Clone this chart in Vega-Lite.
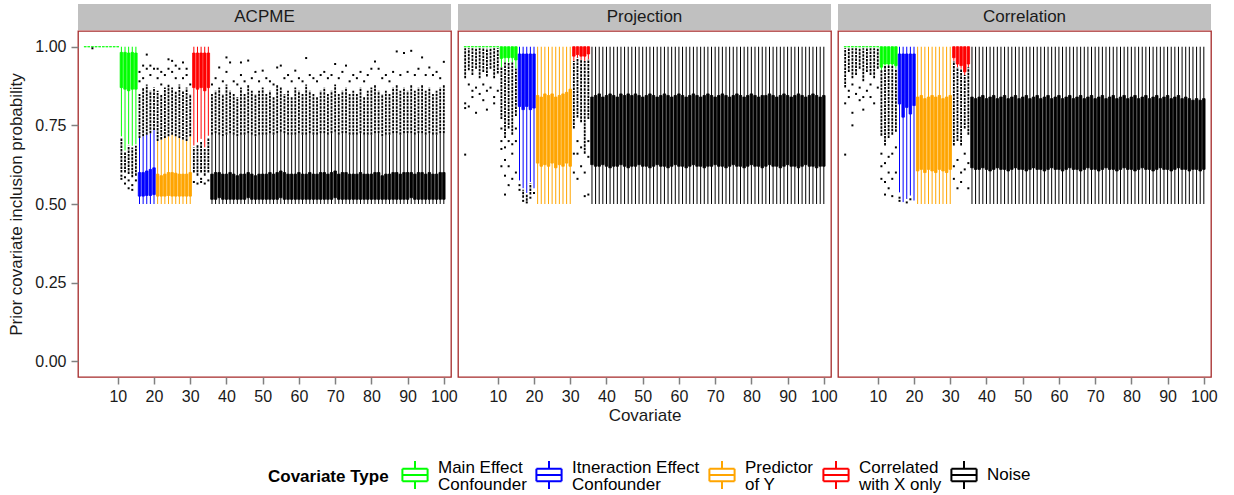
{
"$schema": "https://vega.github.io/schema/vega-lite/v6.json",
"padding": {"left": 7, "top": 4, "right": 5, "bottom": 5},
"background": "white",
"config": {
  "font": "Liberation Sans",
  "axis": {"grid": false, "domain": false, "tickSize": 7, "tickColor": "#808080", "tickWidth": 1.5, "labelFontSize": 16, "labelColor": "#1a1a1a", "labelPadding": 4, "labelFlush": false, "labelOverlap": false, "titleFontSize": 17, "titleFontWeight": "normal", "titleColor": "#1a1a1a", "labelFont": "Liberation Sans", "titleFont": "Liberation Sans"},
  "axisX": {"titlePadding": 3},
  "axisY": {"titlePadding": 9, "labelPadding": 5},
  "legend": {"titleFontSize": 17, "titleFontWeight": "bold", "titleColor": "black", "labelFontSize": 17, "labelColor": "black", "titleFont": "Liberation Sans", "labelFont": "Liberation Sans"}
},
"resolve": {"scale": {"color": "shared", "stroke": "shared"}},
"datasets": {
"types": [{"t":1,"type":"Main Effect|Confounder"},{"t":2,"type":"Itneraction Effect|Confounder"},{"t":3,"type":"Predictor|of Y"},{"t":4,"type":"Correlated|with X only"},{"t":5,"type":"Noise"}],
"A": [
{"c":1,"t":1,"lo":1,"q1":1,"q3":1,"hi":1,"o":[]},
{"c":2,"t":1,"lo":1,"q1":1,"q3":1,"hi":1,"o":[]},
{"c":3,"t":1,"lo":1,"q1":1,"q3":1,"hi":1,"o":[0.995]},
{"c":4,"t":1,"lo":1,"q1":1,"q3":1,"hi":1,"o":[]},
{"c":5,"t":1,"lo":1,"q1":1,"q3":1,"hi":1,"o":[]},
{"c":6,"t":1,"lo":1,"q1":1,"q3":1,"hi":1,"o":[]},
{"c":7,"t":1,"lo":1,"q1":1,"q3":1,"hi":1,"o":[]},
{"c":8,"t":1,"lo":1,"q1":1,"q3":1,"hi":1,"o":[]},
{"c":9,"t":1,"lo":1,"q1":1,"q3":1,"hi":1,"o":[]},
{"c":10,"t":1,"lo":1,"q1":1,"q3":1,"hi":1,"o":[]},
{"c":11,"t":1,"lo":0.715,"q1":0.87,"q3":0.982,"hi":1,"ol":0.6,"oh":0.71,"o":[0.58,0.59]},
{"c":12,"t":1,"lo":0.67,"q1":0.865,"q3":0.982,"hi":1,"ol":0.6,"oh":0.665,"o":[0.565,0.585]},
{"c":13,"t":1,"lo":0.69,"q1":0.86,"q3":0.98,"hi":1,"ol":0.595,"oh":0.685,"o":[0.55,0.575]},
{"c":14,"t":1,"lo":0.685,"q1":0.865,"q3":0.982,"hi":1,"ol":0.585,"oh":0.68,"o":[0.545,0.56]},
{"c":15,"t":1,"lo":0.69,"q1":0.865,"q3":0.98,"hi":1,"ol":0.59,"oh":0.685,"o":[0.575]},
{"c":16,"t":2,"lo":0.5,"q1":0.525,"q3":0.6,"hi":0.71,"ol":0.71,"oh":0.85,"o":[0.89,0.92]},
{"c":17,"t":2,"lo":0.5,"q1":0.525,"q3":0.6,"hi":0.715,"ol":0.715,"oh":0.87,"o":[0.9,0.94]},
{"c":18,"t":2,"lo":0.5,"q1":0.527,"q3":0.605,"hi":0.72,"ol":0.72,"oh":0.88,"o":[0.93,0.975]},
{"c":19,"t":2,"lo":0.5,"q1":0.527,"q3":0.61,"hi":0.725,"ol":0.725,"oh":0.86,"o":[0.91,0.94]},
{"c":20,"t":2,"lo":0.5,"q1":0.53,"q3":0.615,"hi":0.735,"ol":0.735,"oh":0.87,"o":[0.93]},
{"c":21,"t":3,"lo":0.5,"q1":0.525,"q3":0.595,"hi":0.7,"ol":0.7,"oh":0.86,"o":[0.9,0.93]},
{"c":22,"t":3,"lo":0.5,"q1":0.525,"q3":0.59,"hi":0.705,"ol":0.705,"oh":0.85,"o":[0.88,0.92]},
{"c":23,"t":3,"lo":0.5,"q1":0.525,"q3":0.595,"hi":0.71,"ol":0.71,"oh":0.87,"o":[0.91]},
{"c":24,"t":3,"lo":0.5,"q1":0.527,"q3":0.6,"hi":0.715,"ol":0.715,"oh":0.88,"o":[0.93,0.96]},
{"c":25,"t":3,"lo":0.5,"q1":0.525,"q3":0.6,"hi":0.72,"ol":0.72,"oh":0.87,"o":[0.92,0.955]},
{"c":26,"t":3,"lo":0.5,"q1":0.525,"q3":0.598,"hi":0.715,"ol":0.715,"oh":0.86,"o":[0.9,0.94]},
{"c":27,"t":3,"lo":0.5,"q1":0.525,"q3":0.595,"hi":0.71,"ol":0.71,"oh":0.88,"o":[0.93]},
{"c":28,"t":3,"lo":0.5,"q1":0.525,"q3":0.595,"hi":0.705,"ol":0.705,"oh":0.86,"o":[0.9,0.95]},
{"c":29,"t":3,"lo":0.5,"q1":0.525,"q3":0.595,"hi":0.7,"ol":0.7,"oh":0.87,"o":[0.91,0.93]},
{"c":30,"t":3,"lo":0.5,"q1":0.525,"q3":0.6,"hi":0.715,"ol":0.715,"oh":0.85,"o":[0.88]},
{"c":31,"t":4,"lo":0.686,"q1":0.87,"q3":0.98,"hi":1,"ol":0.6,"oh":0.68,"o":[0.57]},
{"c":32,"t":4,"lo":0.696,"q1":0.865,"q3":0.98,"hi":1,"ol":0.59,"oh":0.69,"o":[0.565]},
{"c":33,"t":4,"lo":0.707,"q1":0.87,"q3":0.98,"hi":1,"ol":0.6,"oh":0.7,"o":[0.58,0.57]},
{"c":34,"t":4,"lo":0.68,"q1":0.86,"q3":0.98,"hi":1,"ol":0.59,"oh":0.675,"o":[0.565]},
{"c":35,"t":4,"lo":0.717,"q1":0.87,"q3":0.98,"hi":1,"ol":0.6,"oh":0.71,"o":[0.575]},
{"c":36,"t":5,"lo":0.5,"q1":0.515,"q3":0.595,"hi":0.72,"ol":0.72,"oh":0.85,"o":[0.88]},
{"c":37,"t":5,"lo":0.5,"q1":0.515,"q3":0.6,"hi":0.725,"ol":0.725,"oh":0.86,"o":[0.9]},
{"c":38,"t":5,"lo":0.5,"q1":0.52,"q3":0.6,"hi":0.72,"ol":0.72,"oh":0.87,"o":[0.934]},
{"c":39,"t":5,"lo":0.5,"q1":0.515,"q3":0.595,"hi":0.715,"ol":0.715,"oh":0.85,"o":[0.89]},
{"c":40,"t":5,"lo":0.5,"q1":0.515,"q3":0.595,"hi":0.72,"ol":0.72,"oh":0.88,"o":[0.966,0.92]},
{"c":41,"t":5,"lo":0.5,"q1":0.515,"q3":0.6,"hi":0.725,"ol":0.725,"oh":0.86,"o":[0.95]},
{"c":42,"t":5,"lo":0.5,"q1":0.515,"q3":0.595,"hi":0.72,"ol":0.72,"oh":0.85,"o":[0.89]},
{"c":43,"t":5,"lo":0.5,"q1":0.515,"q3":0.59,"hi":0.715,"ol":0.715,"oh":0.84,"o":[0.88]},
{"c":44,"t":5,"lo":0.5,"q1":0.515,"q3":0.595,"hi":0.72,"ol":0.72,"oh":0.87,"o":[0.95,0.91]},
{"c":45,"t":5,"lo":0.5,"q1":0.515,"q3":0.595,"hi":0.72,"ol":0.72,"oh":0.85,"o":[0.89]},
{"c":46,"t":5,"lo":0.5,"q1":0.52,"q3":0.6,"hi":0.725,"ol":0.725,"oh":0.88,"o":[0.956]},
{"c":47,"t":5,"lo":0.5,"q1":0.515,"q3":0.595,"hi":0.72,"ol":0.72,"oh":0.86,"o":[0.9]},
{"c":48,"t":5,"lo":0.5,"q1":0.515,"q3":0.59,"hi":0.715,"ol":0.715,"oh":0.85,"o":[0.92]},
{"c":49,"t":5,"lo":0.5,"q1":0.515,"q3":0.595,"hi":0.72,"ol":0.72,"oh":0.86,"o":[0.89]},
{"c":50,"t":5,"lo":0.5,"q1":0.515,"q3":0.595,"hi":0.72,"ol":0.72,"oh":0.87,"o":[0.924]},
{"c":51,"t":5,"lo":0.5,"q1":0.515,"q3":0.595,"hi":0.72,"ol":0.72,"oh":0.85,"o":[0.9]},
{"c":52,"t":5,"lo":0.5,"q1":0.515,"q3":0.6,"hi":0.725,"ol":0.725,"oh":0.86,"o":[0.89]},
{"c":53,"t":5,"lo":0.5,"q1":0.515,"q3":0.595,"hi":0.72,"ol":0.72,"oh":0.84,"o":[0.88]},
{"c":54,"t":5,"lo":0.5,"q1":0.515,"q3":0.6,"hi":0.725,"ol":0.725,"oh":0.88,"o":[0.934]},
{"c":55,"t":5,"lo":0.5,"q1":0.52,"q3":0.605,"hi":0.73,"ol":0.73,"oh":0.87,"o":[0.94]},
{"c":56,"t":5,"lo":0.5,"q1":0.515,"q3":0.6,"hi":0.725,"ol":0.725,"oh":0.85,"o":[0.9]},
{"c":57,"t":5,"lo":0.5,"q1":0.515,"q3":0.595,"hi":0.72,"ol":0.72,"oh":0.86,"o":[0.91]},
{"c":58,"t":5,"lo":0.5,"q1":0.515,"q3":0.595,"hi":0.72,"ol":0.72,"oh":0.84,"o":[0.89]},
{"c":59,"t":5,"lo":0.5,"q1":0.515,"q3":0.595,"hi":0.72,"ol":0.72,"oh":0.87,"o":[0.924]},
{"c":60,"t":5,"lo":0.5,"q1":0.515,"q3":0.6,"hi":0.725,"ol":0.725,"oh":0.86,"o":[0.9]},
{"c":61,"t":5,"lo":0.5,"q1":0.515,"q3":0.595,"hi":0.72,"ol":0.72,"oh":0.85,"o":[0.89]},
{"c":62,"t":5,"lo":0.5,"q1":0.515,"q3":0.595,"hi":0.72,"ol":0.72,"oh":0.88,"o":[0.964]},
{"c":63,"t":5,"lo":0.5,"q1":0.515,"q3":0.6,"hi":0.725,"ol":0.725,"oh":0.86,"o":[0.91]},
{"c":64,"t":5,"lo":0.5,"q1":0.515,"q3":0.595,"hi":0.72,"ol":0.72,"oh":0.85,"o":[0.9]},
{"c":65,"t":5,"lo":0.5,"q1":0.515,"q3":0.595,"hi":0.72,"ol":0.72,"oh":0.84,"o":[0.89]},
{"c":66,"t":5,"lo":0.5,"q1":0.515,"q3":0.6,"hi":0.725,"ol":0.725,"oh":0.86,"o":[0.91]},
{"c":67,"t":5,"lo":0.5,"q1":0.515,"q3":0.6,"hi":0.725,"ol":0.725,"oh":0.87,"o":[0.92]},
{"c":68,"t":5,"lo":0.5,"q1":0.515,"q3":0.595,"hi":0.72,"ol":0.72,"oh":0.85,"o":[0.9]},
{"c":69,"t":5,"lo":0.5,"q1":0.515,"q3":0.6,"hi":0.725,"ol":0.725,"oh":0.86,"o":[0.91]},
{"c":70,"t":5,"lo":0.5,"q1":0.52,"q3":0.605,"hi":0.73,"ol":0.73,"oh":0.88,"o":[0.945]},
{"c":71,"t":5,"lo":0.5,"q1":0.515,"q3":0.595,"hi":0.72,"ol":0.72,"oh":0.85,"o":[0.9]},
{"c":72,"t":5,"lo":0.5,"q1":0.515,"q3":0.6,"hi":0.725,"ol":0.725,"oh":0.86,"o":[0.92]},
{"c":73,"t":5,"lo":0.5,"q1":0.515,"q3":0.6,"hi":0.725,"ol":0.725,"oh":0.87,"o":[0.94]},
{"c":74,"t":5,"lo":0.5,"q1":0.515,"q3":0.595,"hi":0.72,"ol":0.72,"oh":0.85,"o":[0.89]},
{"c":75,"t":5,"lo":0.5,"q1":0.515,"q3":0.595,"hi":0.72,"ol":0.72,"oh":0.86,"o":[0.91]},
{"c":76,"t":5,"lo":0.5,"q1":0.515,"q3":0.595,"hi":0.72,"ol":0.72,"oh":0.85,"o":[0.9]},
{"c":77,"t":5,"lo":0.5,"q1":0.515,"q3":0.6,"hi":0.725,"ol":0.725,"oh":0.87,"o":[0.92]},
{"c":78,"t":5,"lo":0.5,"q1":0.515,"q3":0.595,"hi":0.72,"ol":0.72,"oh":0.84,"o":[0.89]},
{"c":79,"t":5,"lo":0.5,"q1":0.515,"q3":0.595,"hi":0.72,"ol":0.72,"oh":0.86,"o":[0.91]},
{"c":80,"t":5,"lo":0.5,"q1":0.515,"q3":0.595,"hi":0.72,"ol":0.72,"oh":0.87,"o":[0.93]},
{"c":81,"t":5,"lo":0.5,"q1":0.515,"q3":0.6,"hi":0.725,"ol":0.725,"oh":0.88,"o":[0.953]},
{"c":82,"t":5,"lo":0.5,"q1":0.515,"q3":0.6,"hi":0.725,"ol":0.725,"oh":0.86,"o":[0.93]},
{"c":83,"t":5,"lo":0.5,"q1":0.515,"q3":0.59,"hi":0.715,"ol":0.715,"oh":0.85,"o":[0.9]},
{"c":84,"t":5,"lo":0.5,"q1":0.515,"q3":0.595,"hi":0.72,"ol":0.72,"oh":0.86,"o":[0.91]},
{"c":85,"t":5,"lo":0.5,"q1":0.515,"q3":0.595,"hi":0.72,"ol":0.72,"oh":0.85,"o":[0.89]},
{"c":86,"t":5,"lo":0.5,"q1":0.515,"q3":0.6,"hi":0.725,"ol":0.725,"oh":0.87,"o":[0.92]},
{"c":87,"t":5,"lo":0.5,"q1":0.515,"q3":0.6,"hi":0.725,"ol":0.725,"oh":0.88,"o":[0.985]},
{"c":88,"t":5,"lo":0.5,"q1":0.515,"q3":0.595,"hi":0.72,"ol":0.72,"oh":0.86,"o":[0.91]},
{"c":89,"t":5,"lo":0.5,"q1":0.515,"q3":0.6,"hi":0.725,"ol":0.725,"oh":0.87,"o":[0.98]},
{"c":90,"t":5,"lo":0.5,"q1":0.515,"q3":0.6,"hi":0.725,"ol":0.725,"oh":0.86,"o":[0.92]},
{"c":91,"t":5,"lo":0.5,"q1":0.52,"q3":0.6,"hi":0.725,"ol":0.725,"oh":0.88,"o":[0.987]},
{"c":92,"t":5,"lo":0.5,"q1":0.515,"q3":0.595,"hi":0.72,"ol":0.72,"oh":0.86,"o":[0.91]},
{"c":93,"t":5,"lo":0.5,"q1":0.515,"q3":0.6,"hi":0.725,"ol":0.725,"oh":0.87,"o":[0.93]},
{"c":94,"t":5,"lo":0.5,"q1":0.515,"q3":0.6,"hi":0.725,"ol":0.725,"oh":0.88,"o":[0.966]},
{"c":95,"t":5,"lo":0.5,"q1":0.515,"q3":0.595,"hi":0.72,"ol":0.72,"oh":0.86,"o":[0.91]},
{"c":96,"t":5,"lo":0.5,"q1":0.515,"q3":0.6,"hi":0.725,"ol":0.725,"oh":0.87,"o":[0.934]},
{"c":97,"t":5,"lo":0.5,"q1":0.515,"q3":0.595,"hi":0.72,"ol":0.72,"oh":0.85,"o":[0.91]},
{"c":98,"t":5,"lo":0.5,"q1":0.515,"q3":0.595,"hi":0.72,"ol":0.72,"oh":0.86,"o":[0.92]},
{"c":99,"t":5,"lo":0.5,"q1":0.515,"q3":0.6,"hi":0.725,"ol":0.725,"oh":0.87,"o":[0.9]},
{"c":100,"t":5,"lo":0.5,"q1":0.515,"q3":0.6,"hi":0.725,"ol":0.725,"oh":0.88,"o":[0.952]}
],
"P": [
{"c":1,"t":1,"lo":1,"q1":1,"q3":1,"hi":1,"ol":0.9,"oh":0.995,"o":[0.82,0.805,0.657]},
{"c":2,"t":1,"lo":1,"q1":1,"q3":1,"hi":1,"ol":0.925,"oh":0.995,"o":[0.88,0.81]},
{"c":3,"t":1,"lo":1,"q1":1,"q3":1,"hi":1,"ol":0.91,"oh":0.995,"o":[0.84,0.86]},
{"c":4,"t":1,"lo":1,"q1":1,"q3":1,"hi":1,"ol":0.93,"oh":0.995,"o":[0.87,0.79]},
{"c":5,"t":1,"lo":1,"q1":1,"q3":1,"hi":1,"ol":0.9,"oh":0.995,"o":[0.85]},
{"c":6,"t":1,"lo":1,"q1":1,"q3":1,"hi":1,"ol":0.92,"oh":0.995,"o":[0.83,0.88]},
{"c":7,"t":1,"lo":1,"q1":1,"q3":1,"hi":1,"ol":0.905,"oh":0.995,"o":[0.86,0.8]},
{"c":8,"t":1,"lo":1,"q1":1,"q3":1,"hi":1,"ol":0.93,"oh":0.995,"o":[0.87]},
{"c":9,"t":1,"lo":1,"q1":1,"q3":1,"hi":1,"ol":0.9,"oh":0.995,"o":[0.84,0.82]},
{"c":10,"t":1,"lo":1,"q1":1,"q3":1,"hi":1,"ol":0.915,"oh":0.995,"o":[0.86]},
{"c":11,"t":1,"lo":0.935,"q1":0.963,"q3":1,"hi":1,"ol":0.77,"oh":0.935,"o":[0.74,0.7,0.675,0.62]},
{"c":12,"t":1,"lo":0.95,"q1":0.965,"q3":1,"hi":1,"ol":0.71,"oh":0.95,"o":[0.68,0.64,0.59,0.53]},
{"c":13,"t":1,"lo":0.95,"q1":0.965,"q3":1,"hi":1,"ol":0.74,"oh":0.95,"o":[0.7,0.62,0.56]},
{"c":14,"t":1,"lo":0.95,"q1":0.965,"q3":1,"hi":1,"ol":0.72,"oh":0.95,"o":[0.69,0.66,0.58]},
{"c":15,"t":1,"lo":0.93,"q1":0.958,"q3":1,"hi":1,"ol":0.78,"oh":0.93,"o":[0.74,0.7,0.6]},
{"c":16,"t":2,"lo":0.575,"q1":0.81,"q3":0.977,"hi":1,"o":[0.56,0.545]},
{"c":17,"t":2,"lo":0.55,"q1":0.8,"q3":0.977,"hi":1,"ol":0.52,"oh":0.545,"o":[0.51]},
{"c":18,"t":2,"lo":0.535,"q1":0.81,"q3":0.977,"hi":1,"ol":0.51,"oh":0.53,"o":[0.505]},
{"c":19,"t":2,"lo":0.57,"q1":0.8,"q3":0.977,"hi":1,"ol":0.53,"oh":0.565,"o":[0.52]},
{"c":20,"t":2,"lo":0.55,"q1":0.805,"q3":0.977,"hi":1,"o":[0.535]},
{"c":21,"t":3,"lo":0.5,"q1":0.63,"q3":0.845,"hi":1,"o":[]},
{"c":22,"t":3,"lo":0.5,"q1":0.62,"q3":0.84,"hi":1,"o":[]},
{"c":23,"t":3,"lo":0.5,"q1":0.625,"q3":0.85,"hi":1,"o":[]},
{"c":24,"t":3,"lo":0.5,"q1":0.62,"q3":0.845,"hi":1,"o":[]},
{"c":25,"t":3,"lo":0.5,"q1":0.63,"q3":0.85,"hi":1,"o":[]},
{"c":26,"t":3,"lo":0.5,"q1":0.615,"q3":0.84,"hi":1,"o":[]},
{"c":27,"t":3,"lo":0.5,"q1":0.625,"q3":0.845,"hi":1,"o":[]},
{"c":28,"t":3,"lo":0.5,"q1":0.62,"q3":0.85,"hi":1,"o":[]},
{"c":29,"t":3,"lo":0.5,"q1":0.63,"q3":0.855,"hi":1,"o":[]},
{"c":30,"t":3,"lo":0.5,"q1":0.62,"q3":0.865,"hi":1,"o":[]},
{"c":31,"t":4,"lo":0.955,"q1":0.97,"q3":1,"hi":1,"ol":0.74,"oh":0.955,"o":[0.66,0.6]},
{"c":32,"t":4,"lo":0.965,"q1":0.975,"q3":1,"hi":1,"ol":0.775,"oh":0.965,"o":[0.7,0.66,0.58]},
{"c":33,"t":4,"lo":0.958,"q1":0.97,"q3":1,"hi":1,"ol":0.76,"oh":0.958,"o":[0.68,0.62]},
{"c":34,"t":4,"lo":0.955,"q1":0.97,"q3":1,"hi":1,"ol":0.66,"oh":0.955,"o":[0.6,0.525]},
{"c":35,"t":4,"lo":0.96,"q1":0.977,"q3":1,"hi":1,"ol":0.77,"oh":0.96,"o":[0.7,0.65,0.53]},
{"c":36,"t":5,"lo":0.5,"q1":0.625,"q3":0.84,"hi":1,"o":[]},
{"c":37,"t":5,"lo":0.5,"q1":0.62,"q3":0.845,"hi":1,"o":[]},
{"c":38,"t":5,"lo":0.5,"q1":0.62,"q3":0.85,"hi":1,"o":[]},
{"c":39,"t":5,"lo":0.5,"q1":0.625,"q3":0.84,"hi":1,"o":[]},
{"c":40,"t":5,"lo":0.5,"q1":0.62,"q3":0.845,"hi":1,"o":[]},
{"c":41,"t":5,"lo":0.5,"q1":0.615,"q3":0.85,"hi":1,"o":[]},
{"c":42,"t":5,"lo":0.5,"q1":0.62,"q3":0.845,"hi":1,"o":[]},
{"c":43,"t":5,"lo":0.5,"q1":0.62,"q3":0.84,"hi":1,"o":[]},
{"c":44,"t":5,"lo":0.5,"q1":0.625,"q3":0.85,"hi":1,"o":[]},
{"c":45,"t":5,"lo":0.5,"q1":0.62,"q3":0.845,"hi":1,"o":[]},
{"c":46,"t":5,"lo":0.5,"q1":0.615,"q3":0.85,"hi":1,"o":[]},
{"c":47,"t":5,"lo":0.5,"q1":0.62,"q3":0.845,"hi":1,"o":[]},
{"c":48,"t":5,"lo":0.5,"q1":0.62,"q3":0.85,"hi":1,"o":[]},
{"c":49,"t":5,"lo":0.5,"q1":0.625,"q3":0.845,"hi":1,"o":[]},
{"c":50,"t":5,"lo":0.5,"q1":0.62,"q3":0.84,"hi":1,"o":[]},
{"c":51,"t":5,"lo":0.5,"q1":0.62,"q3":0.845,"hi":1,"o":[]},
{"c":52,"t":5,"lo":0.5,"q1":0.615,"q3":0.85,"hi":1,"o":[]},
{"c":53,"t":5,"lo":0.5,"q1":0.62,"q3":0.845,"hi":1,"o":[]},
{"c":54,"t":5,"lo":0.5,"q1":0.625,"q3":0.84,"hi":1,"o":[]},
{"c":55,"t":5,"lo":0.5,"q1":0.62,"q3":0.845,"hi":1,"o":[]},
{"c":56,"t":5,"lo":0.5,"q1":0.62,"q3":0.85,"hi":1,"o":[]},
{"c":57,"t":5,"lo":0.5,"q1":0.615,"q3":0.845,"hi":1,"o":[]},
{"c":58,"t":5,"lo":0.5,"q1":0.62,"q3":0.84,"hi":1,"o":[]},
{"c":59,"t":5,"lo":0.5,"q1":0.625,"q3":0.845,"hi":1,"o":[]},
{"c":60,"t":5,"lo":0.5,"q1":0.62,"q3":0.85,"hi":1,"o":[]},
{"c":61,"t":5,"lo":0.5,"q1":0.62,"q3":0.845,"hi":1,"o":[]},
{"c":62,"t":5,"lo":0.5,"q1":0.615,"q3":0.84,"hi":1,"o":[]},
{"c":63,"t":5,"lo":0.5,"q1":0.62,"q3":0.845,"hi":1,"o":[]},
{"c":64,"t":5,"lo":0.5,"q1":0.625,"q3":0.85,"hi":1,"o":[]},
{"c":65,"t":5,"lo":0.5,"q1":0.62,"q3":0.845,"hi":1,"o":[]},
{"c":66,"t":5,"lo":0.5,"q1":0.62,"q3":0.84,"hi":1,"o":[]},
{"c":67,"t":5,"lo":0.5,"q1":0.615,"q3":0.845,"hi":1,"o":[]},
{"c":68,"t":5,"lo":0.5,"q1":0.62,"q3":0.85,"hi":1,"o":[]},
{"c":69,"t":5,"lo":0.5,"q1":0.62,"q3":0.845,"hi":1,"o":[]},
{"c":70,"t":5,"lo":0.5,"q1":0.625,"q3":0.84,"hi":1,"o":[]},
{"c":71,"t":5,"lo":0.5,"q1":0.62,"q3":0.845,"hi":1,"o":[]},
{"c":72,"t":5,"lo":0.5,"q1":0.62,"q3":0.85,"hi":1,"o":[]},
{"c":73,"t":5,"lo":0.5,"q1":0.615,"q3":0.845,"hi":1,"o":[]},
{"c":74,"t":5,"lo":0.5,"q1":0.62,"q3":0.84,"hi":1,"o":[]},
{"c":75,"t":5,"lo":0.5,"q1":0.625,"q3":0.845,"hi":1,"o":[]},
{"c":76,"t":5,"lo":0.5,"q1":0.62,"q3":0.85,"hi":1,"o":[]},
{"c":77,"t":5,"lo":0.5,"q1":0.62,"q3":0.845,"hi":1,"o":[]},
{"c":78,"t":5,"lo":0.5,"q1":0.615,"q3":0.84,"hi":1,"o":[]},
{"c":79,"t":5,"lo":0.5,"q1":0.62,"q3":0.845,"hi":1,"o":[]},
{"c":80,"t":5,"lo":0.5,"q1":0.625,"q3":0.85,"hi":1,"o":[]},
{"c":81,"t":5,"lo":0.5,"q1":0.62,"q3":0.845,"hi":1,"o":[]},
{"c":82,"t":5,"lo":0.5,"q1":0.62,"q3":0.84,"hi":1,"o":[]},
{"c":83,"t":5,"lo":0.5,"q1":0.615,"q3":0.845,"hi":1,"o":[]},
{"c":84,"t":5,"lo":0.5,"q1":0.62,"q3":0.845,"hi":1,"o":[]},
{"c":85,"t":5,"lo":0.5,"q1":0.625,"q3":0.85,"hi":1,"o":[]},
{"c":86,"t":5,"lo":0.5,"q1":0.62,"q3":0.845,"hi":1,"o":[]},
{"c":87,"t":5,"lo":0.5,"q1":0.62,"q3":0.84,"hi":1,"o":[]},
{"c":88,"t":5,"lo":0.5,"q1":0.615,"q3":0.845,"hi":1,"o":[]},
{"c":89,"t":5,"lo":0.5,"q1":0.62,"q3":0.85,"hi":1,"o":[]},
{"c":90,"t":5,"lo":0.5,"q1":0.625,"q3":0.845,"hi":1,"o":[]},
{"c":91,"t":5,"lo":0.5,"q1":0.62,"q3":0.84,"hi":1,"o":[]},
{"c":92,"t":5,"lo":0.5,"q1":0.62,"q3":0.845,"hi":1,"o":[]},
{"c":93,"t":5,"lo":0.5,"q1":0.615,"q3":0.85,"hi":1,"o":[]},
{"c":94,"t":5,"lo":0.5,"q1":0.62,"q3":0.845,"hi":1,"o":[]},
{"c":95,"t":5,"lo":0.5,"q1":0.625,"q3":0.84,"hi":1,"o":[]},
{"c":96,"t":5,"lo":0.5,"q1":0.62,"q3":0.845,"hi":1,"o":[]},
{"c":97,"t":5,"lo":0.5,"q1":0.62,"q3":0.85,"hi":1,"o":[]},
{"c":98,"t":5,"lo":0.5,"q1":0.615,"q3":0.845,"hi":1,"o":[]},
{"c":99,"t":5,"lo":0.5,"q1":0.62,"q3":0.84,"hi":1,"o":[]},
{"c":100,"t":5,"lo":0.5,"q1":0.62,"q3":0.845,"hi":1,"o":[]}
],
"C": [
{"c":1,"t":1,"lo":1,"q1":1,"q3":1,"hi":1,"ol":0.87,"oh":0.995,"o":[0.82,0.657]},
{"c":2,"t":1,"lo":1,"q1":1,"q3":1,"hi":1,"ol":0.92,"oh":0.995,"o":[0.86,0.84]},
{"c":3,"t":1,"lo":1,"q1":1,"q3":1,"hi":1,"ol":0.9,"oh":0.995,"o":[0.88,0.79,0.75]},
{"c":4,"t":1,"lo":1,"q1":1,"q3":1,"hi":1,"ol":0.91,"oh":0.995,"o":[0.85]},
{"c":5,"t":1,"lo":1,"q1":1,"q3":1,"hi":1,"ol":0.93,"oh":0.995,"o":[0.87,0.83]},
{"c":6,"t":1,"lo":1,"q1":1,"q3":1,"hi":1,"ol":0.89,"oh":0.995,"o":[0.84,0.8]},
{"c":7,"t":1,"lo":1,"q1":1,"q3":1,"hi":1,"ol":0.92,"oh":0.995,"o":[0.86]},
{"c":8,"t":1,"lo":1,"q1":1,"q3":1,"hi":1,"ol":0.91,"oh":0.995,"o":[0.88,0.84]},
{"c":9,"t":1,"lo":1,"q1":1,"q3":1,"hi":1,"ol":0.9,"oh":0.995,"o":[0.82]},
{"c":10,"t":1,"lo":1,"q1":1,"q3":1,"hi":1,"ol":0.93,"oh":0.995,"o":[0.87]},
{"c":11,"t":1,"lo":0.925,"q1":0.935,"q3":1,"hi":1,"ol":0.717,"oh":0.925,"o":[0.66,0.62,0.58]},
{"c":12,"t":1,"lo":0.94,"q1":0.945,"q3":1,"hi":1,"ol":0.686,"oh":0.94,"o":[0.63,0.57,0.53]},
{"c":13,"t":1,"lo":0.94,"q1":0.945,"q3":1,"hi":1,"ol":0.71,"oh":0.94,"o":[0.65,0.6,0.55]},
{"c":14,"t":1,"lo":0.94,"q1":0.945,"q3":1,"hi":1,"ol":0.72,"oh":0.94,"o":[0.66,0.58,0.525]},
{"c":15,"t":1,"lo":0.93,"q1":0.94,"q3":1,"hi":1,"ol":0.73,"oh":0.93,"o":[0.68,0.6]},
{"c":16,"t":2,"lo":0.537,"q1":0.818,"q3":0.977,"hi":1,"o":[0.52,0.51]},
{"c":17,"t":2,"lo":0.506,"q1":0.776,"q3":0.977,"hi":1,"o":[]},
{"c":18,"t":2,"lo":0.516,"q1":0.807,"q3":0.977,"hi":1,"o":[0.505]},
{"c":19,"t":2,"lo":0.527,"q1":0.786,"q3":0.977,"hi":1,"o":[0.515]},
{"c":20,"t":2,"lo":0.511,"q1":0.813,"q3":0.977,"hi":1,"o":[]},
{"c":21,"t":3,"lo":0.5,"q1":0.605,"q3":0.84,"hi":1,"o":[]},
{"c":22,"t":3,"lo":0.5,"q1":0.61,"q3":0.845,"hi":1,"o":[]},
{"c":23,"t":3,"lo":0.5,"q1":0.6,"q3":0.835,"hi":1,"o":[]},
{"c":24,"t":3,"lo":0.5,"q1":0.61,"q3":0.84,"hi":1,"o":[]},
{"c":25,"t":3,"lo":0.5,"q1":0.605,"q3":0.845,"hi":1,"o":[]},
{"c":26,"t":3,"lo":0.5,"q1":0.6,"q3":0.84,"hi":1,"o":[]},
{"c":27,"t":3,"lo":0.5,"q1":0.61,"q3":0.845,"hi":1,"o":[]},
{"c":28,"t":3,"lo":0.5,"q1":0.605,"q3":0.835,"hi":1,"o":[]},
{"c":29,"t":3,"lo":0.5,"q1":0.6,"q3":0.84,"hi":1,"o":[]},
{"c":30,"t":3,"lo":0.5,"q1":0.61,"q3":0.845,"hi":1,"o":[]},
{"c":31,"t":4,"lo":0.955,"q1":0.965,"q3":1,"hi":1,"ol":0.686,"oh":0.955,"o":[0.62,0.58]},
{"c":32,"t":4,"lo":0.935,"q1":0.945,"q3":1,"hi":1,"ol":0.7,"oh":0.935,"o":[0.64,0.55]},
{"c":33,"t":4,"lo":0.93,"q1":0.94,"q3":1,"hi":1,"ol":0.686,"oh":0.93,"o":[0.6,0.57]},
{"c":34,"t":4,"lo":0.91,"q1":0.92,"q3":1,"hi":1,"ol":0.74,"oh":0.91,"o":[0.66,0.61]},
{"c":35,"t":4,"lo":0.935,"q1":0.945,"q3":1,"hi":1,"ol":0.72,"oh":0.935,"o":[0.63,0.55]},
{"c":36,"t":5,"lo":0.5,"q1":0.615,"q3":0.84,"hi":1,"o":[]},
{"c":37,"t":5,"lo":0.5,"q1":0.61,"q3":0.835,"hi":1,"o":[]},
{"c":38,"t":5,"lo":0.5,"q1":0.61,"q3":0.84,"hi":1,"o":[]},
{"c":39,"t":5,"lo":0.5,"q1":0.615,"q3":0.845,"hi":1,"o":[]},
{"c":40,"t":5,"lo":0.5,"q1":0.61,"q3":0.835,"hi":1,"o":[]},
{"c":41,"t":5,"lo":0.5,"q1":0.605,"q3":0.84,"hi":1,"o":[]},
{"c":42,"t":5,"lo":0.5,"q1":0.61,"q3":0.845,"hi":1,"o":[]},
{"c":43,"t":5,"lo":0.5,"q1":0.615,"q3":0.835,"hi":1,"o":[]},
{"c":44,"t":5,"lo":0.5,"q1":0.61,"q3":0.84,"hi":1,"o":[]},
{"c":45,"t":5,"lo":0.5,"q1":0.61,"q3":0.845,"hi":1,"o":[]},
{"c":46,"t":5,"lo":0.5,"q1":0.605,"q3":0.835,"hi":1,"o":[]},
{"c":47,"t":5,"lo":0.5,"q1":0.61,"q3":0.84,"hi":1,"o":[]},
{"c":48,"t":5,"lo":0.5,"q1":0.615,"q3":0.845,"hi":1,"o":[]},
{"c":49,"t":5,"lo":0.5,"q1":0.61,"q3":0.835,"hi":1,"o":[]},
{"c":50,"t":5,"lo":0.5,"q1":0.61,"q3":0.84,"hi":1,"o":[]},
{"c":51,"t":5,"lo":0.5,"q1":0.605,"q3":0.845,"hi":1,"o":[]},
{"c":52,"t":5,"lo":0.5,"q1":0.61,"q3":0.835,"hi":1,"o":[]},
{"c":53,"t":5,"lo":0.5,"q1":0.615,"q3":0.84,"hi":1,"o":[]},
{"c":54,"t":5,"lo":0.5,"q1":0.61,"q3":0.845,"hi":1,"o":[]},
{"c":55,"t":5,"lo":0.5,"q1":0.61,"q3":0.835,"hi":1,"o":[]},
{"c":56,"t":5,"lo":0.5,"q1":0.605,"q3":0.84,"hi":1,"o":[]},
{"c":57,"t":5,"lo":0.5,"q1":0.61,"q3":0.845,"hi":1,"o":[]},
{"c":58,"t":5,"lo":0.5,"q1":0.615,"q3":0.835,"hi":1,"o":[]},
{"c":59,"t":5,"lo":0.5,"q1":0.61,"q3":0.84,"hi":1,"o":[]},
{"c":60,"t":5,"lo":0.5,"q1":0.61,"q3":0.845,"hi":1,"o":[]},
{"c":61,"t":5,"lo":0.5,"q1":0.605,"q3":0.835,"hi":1,"o":[]},
{"c":62,"t":5,"lo":0.5,"q1":0.61,"q3":0.84,"hi":1,"o":[]},
{"c":63,"t":5,"lo":0.5,"q1":0.615,"q3":0.845,"hi":1,"o":[]},
{"c":64,"t":5,"lo":0.5,"q1":0.61,"q3":0.835,"hi":1,"o":[]},
{"c":65,"t":5,"lo":0.5,"q1":0.61,"q3":0.84,"hi":1,"o":[]},
{"c":66,"t":5,"lo":0.5,"q1":0.605,"q3":0.845,"hi":1,"o":[]},
{"c":67,"t":5,"lo":0.5,"q1":0.61,"q3":0.835,"hi":1,"o":[]},
{"c":68,"t":5,"lo":0.5,"q1":0.615,"q3":0.84,"hi":1,"o":[]},
{"c":69,"t":5,"lo":0.5,"q1":0.61,"q3":0.845,"hi":1,"o":[]},
{"c":70,"t":5,"lo":0.5,"q1":0.61,"q3":0.835,"hi":1,"o":[]},
{"c":71,"t":5,"lo":0.5,"q1":0.605,"q3":0.84,"hi":1,"o":[]},
{"c":72,"t":5,"lo":0.5,"q1":0.61,"q3":0.845,"hi":1,"o":[]},
{"c":73,"t":5,"lo":0.5,"q1":0.615,"q3":0.835,"hi":1,"o":[]},
{"c":74,"t":5,"lo":0.5,"q1":0.61,"q3":0.84,"hi":1,"o":[]},
{"c":75,"t":5,"lo":0.5,"q1":0.61,"q3":0.845,"hi":1,"o":[]},
{"c":76,"t":5,"lo":0.5,"q1":0.605,"q3":0.835,"hi":1,"o":[]},
{"c":77,"t":5,"lo":0.5,"q1":0.61,"q3":0.84,"hi":1,"o":[]},
{"c":78,"t":5,"lo":0.5,"q1":0.615,"q3":0.845,"hi":1,"o":[]},
{"c":79,"t":5,"lo":0.5,"q1":0.61,"q3":0.835,"hi":1,"o":[]},
{"c":80,"t":5,"lo":0.5,"q1":0.61,"q3":0.84,"hi":1,"o":[]},
{"c":81,"t":5,"lo":0.5,"q1":0.605,"q3":0.845,"hi":1,"o":[]},
{"c":82,"t":5,"lo":0.5,"q1":0.61,"q3":0.835,"hi":1,"o":[]},
{"c":83,"t":5,"lo":0.5,"q1":0.615,"q3":0.84,"hi":1,"o":[]},
{"c":84,"t":5,"lo":0.5,"q1":0.61,"q3":0.845,"hi":1,"o":[]},
{"c":85,"t":5,"lo":0.5,"q1":0.61,"q3":0.835,"hi":1,"o":[]},
{"c":86,"t":5,"lo":0.5,"q1":0.605,"q3":0.84,"hi":1,"o":[]},
{"c":87,"t":5,"lo":0.5,"q1":0.61,"q3":0.845,"hi":1,"o":[]},
{"c":88,"t":5,"lo":0.5,"q1":0.615,"q3":0.835,"hi":1,"o":[]},
{"c":89,"t":5,"lo":0.5,"q1":0.61,"q3":0.84,"hi":1,"o":[]},
{"c":90,"t":5,"lo":0.5,"q1":0.61,"q3":0.845,"hi":1,"o":[]},
{"c":91,"t":5,"lo":0.5,"q1":0.605,"q3":0.835,"hi":1,"o":[]},
{"c":92,"t":5,"lo":0.5,"q1":0.61,"q3":0.84,"hi":1,"o":[]},
{"c":93,"t":5,"lo":0.5,"q1":0.615,"q3":0.845,"hi":1,"o":[]},
{"c":94,"t":5,"lo":0.5,"q1":0.61,"q3":0.835,"hi":1,"o":[]},
{"c":95,"t":5,"lo":0.5,"q1":0.61,"q3":0.84,"hi":1,"o":[]},
{"c":96,"t":5,"lo":0.5,"q1":0.605,"q3":0.835,"hi":1,"o":[]},
{"c":97,"t":5,"lo":0.5,"q1":0.61,"q3":0.83,"hi":1,"o":[]},
{"c":98,"t":5,"lo":0.5,"q1":0.61,"q3":0.835,"hi":1,"o":[]},
{"c":99,"t":5,"lo":0.5,"q1":0.605,"q3":0.83,"hi":1,"o":[]},
{"c":100,"t":5,"lo":0.5,"q1":0.61,"q3":0.835,"hi":1,"o":[]}
]
},
"spacing": -4,
"hconcat": [
{"spacing": 0, "vconcat": [
 {"data": {"values": [{"lab": "ACPME"}]}, "width": 373, "height": 26, "view": {"fill": "#C0C0C0", "stroke": null},
  "mark": {"type": "text", "fontSize": 17, "font": "Liberation Sans", "color": "#1a1a1a"}, "encoding": {"text": {"field": "lab"}}},
 {"width": 373, "height": 346, "data": {"name": "A"},
  "transform": [{"lookup": "t", "from": {"data": {"name": "types"}, "key": "t", "fields": ["type"]}}],
  "view": {"stroke": "#A52A2A", "strokeWidth": 1.3, "fill": "white"},
  "encoding": {"x": {"field": "c", "type": "quantitative", "scale": {"domain": [0.4, 100.6], "nice": false, "zero": false}, "axis": {"values": [10,20,30,40,50,60,70,80,90,100], "title": null}}},
  "layer": [
   {"mark": {"type": "rule", "strokeWidth": 1}, "encoding": {
     "y": {"field": "lo", "type": "quantitative", "scale": {"domain": [-0.05, 1.05], "nice": false, "zero": false}, "axis": {"title": "Prior covariate inclusion probability", "values": [0, 0.25, 0.5, 0.75, 1], "format": ".2f"}},
     "y2": {"field": "hi"},
     "stroke": {"field": "type", "type": "nominal", "scale": {"domain": ["Main Effect|Confounder","Itneraction Effect|Confounder","Predictor|of Y","Correlated|with X only","Noise"], "range": ["#00FF00","#0000FF","#FFA500","#FF0000","#000000"]},
       "legend": {"title": "Covariate Type", "orient": "none", "legendX": 190, "legendY": 456, "direction": "horizontal", "titleOrient": "left", "titlePadding": 11, "labelExpr": "split(datum.label, '|')", "symbolType": "M0,-1V-0.45M-0.9,-0.45H0.9M0.9,-0.45V0.45M0.9,0.45H-0.9M-0.9,0.45V-0.45M-0.9,0H0.9M0,0.45V1", "symbolSize": 784, "symbolStrokeWidth": 2, "symbolFillColor": "#ebebeb", "columnPadding": 5, "labelOffset": 8,
         "encode": {"symbols": {"update": {"fill": {"value": "#ebebeb"}, "strokeWidth": {"value": 2}, "opacity": {"value": 1}}}, "labels": {"update": {"lineHeight": {"value": 17}, "dy": {"signal": "indexof(datum.label, '|') >= 0 ? -7 : 0"}}}}}}}},
   {"mark": {"type": "bar", "size": 2.5}, "encoding": {
     "y": {"field": "q1", "type": "quantitative", "scale": {"domain": [-0.05, 1.05], "nice": false, "zero": false}, "axis": {"title": "Prior covariate inclusion probability", "values": [0, 0.25, 0.5, 0.75, 1], "format": ".2f"}},
     "y2": {"field": "q3"},
     "color": {"field": "type", "type": "nominal", "scale": {"domain": ["Main Effect|Confounder","Itneraction Effect|Confounder","Predictor|of Y","Correlated|with X only","Noise"], "range": ["#00FF00","#0000FF","#FFA500","#FF0000","#000000"]}, "legend": null}}},
   {"mark": {"type": "bar", "size": 2.5, "filled": false, "strokeWidth": 0.8}, "encoding": {
     "y": {"field": "q1", "type": "quantitative", "scale": {"domain": [-0.05, 1.05], "nice": false, "zero": false}, "axis": {"title": "Prior covariate inclusion probability", "values": [0, 0.25, 0.5, 0.75, 1], "format": ".2f"}},
     "y2": {"field": "q3"},
     "color": {"field": "type", "type": "nominal", "scale": {"domain": ["Main Effect|Confounder","Itneraction Effect|Confounder","Predictor|of Y","Correlated|with X only","Noise"], "range": ["#00FF00","#0000FF","#FFA500","#FF0000","#000000"]}, "legend": null}}},
   {"mark": {"type": "rule", "color": "black", "strokeWidth": 1.8, "strokeDash": [2.5, 1]}, "encoding": {
     "y": {"field": "ol", "type": "quantitative", "scale": {"domain": [-0.05, 1.05], "nice": false, "zero": false}, "axis": {"title": "Prior covariate inclusion probability", "values": [0, 0.25, 0.5, 0.75, 1], "format": ".2f"}},
     "y2": {"field": "oh"}}},
   {"transform": [{"flatten": ["o"], "as": ["ov"]}], "mark": {"type": "square", "size": 4, "color": "black", "opacity": 1}, "encoding": {
     "y": {"field": "ov", "type": "quantitative", "scale": {"domain": [-0.05, 1.05], "nice": false, "zero": false}, "axis": {"title": "Prior covariate inclusion probability", "values": [0, 0.25, 0.5, 0.75, 1], "format": ".2f"}}}}
  ]}
]},
{"spacing": 0, "vconcat": [
 {"data": {"values": [{"lab": "Projection"}]}, "width": 373, "height": 26, "view": {"fill": "#C0C0C0", "stroke": null},
  "mark": {"type": "text", "fontSize": 17, "font": "Liberation Sans", "color": "#1a1a1a"}, "encoding": {"text": {"field": "lab"}}},
 {"width": 373, "height": 346, "data": {"name": "P"},
  "transform": [{"lookup": "t", "from": {"data": {"name": "types"}, "key": "t", "fields": ["type"]}}],
  "view": {"stroke": "#A52A2A", "strokeWidth": 1.3, "fill": "white"},
  "encoding": {"x": {"field": "c", "type": "quantitative", "scale": {"domain": [0.4, 100.6], "nice": false, "zero": false}, "axis": {"values": [10,20,30,40,50,60,70,80,90,100], "title": "Covariate"}}},
  "layer": [
   {"mark": {"type": "rule", "strokeWidth": 1}, "encoding": {
     "y": {"field": "lo", "type": "quantitative", "scale": {"domain": [-0.05, 1.05], "nice": false, "zero": false}, "axis": null},
     "y2": {"field": "hi"},
     "stroke": {"field": "type", "type": "nominal", "scale": {"domain": ["Main Effect|Confounder","Itneraction Effect|Confounder","Predictor|of Y","Correlated|with X only","Noise"], "range": ["#00FF00","#0000FF","#FFA500","#FF0000","#000000"]},
       "legend": {"title": "Covariate Type", "orient": "none", "legendX": 190, "legendY": 456, "direction": "horizontal", "titleOrient": "left", "titlePadding": 11, "labelExpr": "split(datum.label, '|')", "symbolType": "M0,-1V-0.45M-0.9,-0.45H0.9M0.9,-0.45V0.45M0.9,0.45H-0.9M-0.9,0.45V-0.45M-0.9,0H0.9M0,0.45V1", "symbolSize": 784, "symbolStrokeWidth": 2, "symbolFillColor": "#ebebeb", "columnPadding": 5, "labelOffset": 8,
         "encode": {"symbols": {"update": {"fill": {"value": "#ebebeb"}, "strokeWidth": {"value": 2}, "opacity": {"value": 1}}}, "labels": {"update": {"lineHeight": {"value": 17}, "dy": {"signal": "indexof(datum.label, '|') >= 0 ? -7 : 0"}}}}}}}},
   {"mark": {"type": "bar", "size": 2.5}, "encoding": {
     "y": {"field": "q1", "type": "quantitative", "scale": {"domain": [-0.05, 1.05], "nice": false, "zero": false}, "axis": null},
     "y2": {"field": "q3"},
     "color": {"field": "type", "type": "nominal", "scale": {"domain": ["Main Effect|Confounder","Itneraction Effect|Confounder","Predictor|of Y","Correlated|with X only","Noise"], "range": ["#00FF00","#0000FF","#FFA500","#FF0000","#000000"]}, "legend": null}}},
   {"mark": {"type": "bar", "size": 2.5, "filled": false, "strokeWidth": 0.8}, "encoding": {
     "y": {"field": "q1", "type": "quantitative", "scale": {"domain": [-0.05, 1.05], "nice": false, "zero": false}, "axis": null},
     "y2": {"field": "q3"},
     "color": {"field": "type", "type": "nominal", "scale": {"domain": ["Main Effect|Confounder","Itneraction Effect|Confounder","Predictor|of Y","Correlated|with X only","Noise"], "range": ["#00FF00","#0000FF","#FFA500","#FF0000","#000000"]}, "legend": null}}},
   {"mark": {"type": "rule", "color": "black", "strokeWidth": 1.8, "strokeDash": [2.5, 1]}, "encoding": {
     "y": {"field": "ol", "type": "quantitative", "scale": {"domain": [-0.05, 1.05], "nice": false, "zero": false}, "axis": null},
     "y2": {"field": "oh"}}},
   {"transform": [{"flatten": ["o"], "as": ["ov"]}], "mark": {"type": "square", "size": 4, "color": "black", "opacity": 1}, "encoding": {
     "y": {"field": "ov", "type": "quantitative", "scale": {"domain": [-0.05, 1.05], "nice": false, "zero": false}, "axis": null}}}
  ]}
]},
{"spacing": 0, "vconcat": [
 {"data": {"values": [{"lab": "Correlation"}]}, "width": 373, "height": 26, "view": {"fill": "#C0C0C0", "stroke": null},
  "mark": {"type": "text", "fontSize": 17, "font": "Liberation Sans", "color": "#1a1a1a"}, "encoding": {"text": {"field": "lab"}}},
 {"width": 373, "height": 346, "data": {"name": "C"},
  "transform": [{"lookup": "t", "from": {"data": {"name": "types"}, "key": "t", "fields": ["type"]}}],
  "view": {"stroke": "#A52A2A", "strokeWidth": 1.3, "fill": "white"},
  "encoding": {"x": {"field": "c", "type": "quantitative", "scale": {"domain": [0.4, 100.6], "nice": false, "zero": false}, "axis": {"values": [10,20,30,40,50,60,70,80,90,100], "title": null}}},
  "layer": [
   {"mark": {"type": "rule", "strokeWidth": 1}, "encoding": {
     "y": {"field": "lo", "type": "quantitative", "scale": {"domain": [-0.05, 1.05], "nice": false, "zero": false}, "axis": null},
     "y2": {"field": "hi"},
     "stroke": {"field": "type", "type": "nominal", "scale": {"domain": ["Main Effect|Confounder","Itneraction Effect|Confounder","Predictor|of Y","Correlated|with X only","Noise"], "range": ["#00FF00","#0000FF","#FFA500","#FF0000","#000000"]},
       "legend": {"title": "Covariate Type", "orient": "none", "legendX": 190, "legendY": 456, "direction": "horizontal", "titleOrient": "left", "titlePadding": 11, "labelExpr": "split(datum.label, '|')", "symbolType": "M0,-1V-0.45M-0.9,-0.45H0.9M0.9,-0.45V0.45M0.9,0.45H-0.9M-0.9,0.45V-0.45M-0.9,0H0.9M0,0.45V1", "symbolSize": 784, "symbolStrokeWidth": 2, "symbolFillColor": "#ebebeb", "columnPadding": 5, "labelOffset": 8,
         "encode": {"symbols": {"update": {"fill": {"value": "#ebebeb"}, "strokeWidth": {"value": 2}, "opacity": {"value": 1}}}, "labels": {"update": {"lineHeight": {"value": 17}, "dy": {"signal": "indexof(datum.label, '|') >= 0 ? -7 : 0"}}}}}}}},
   {"mark": {"type": "bar", "size": 2.5}, "encoding": {
     "y": {"field": "q1", "type": "quantitative", "scale": {"domain": [-0.05, 1.05], "nice": false, "zero": false}, "axis": null},
     "y2": {"field": "q3"},
     "color": {"field": "type", "type": "nominal", "scale": {"domain": ["Main Effect|Confounder","Itneraction Effect|Confounder","Predictor|of Y","Correlated|with X only","Noise"], "range": ["#00FF00","#0000FF","#FFA500","#FF0000","#000000"]}, "legend": null}}},
   {"mark": {"type": "bar", "size": 2.5, "filled": false, "strokeWidth": 0.8}, "encoding": {
     "y": {"field": "q1", "type": "quantitative", "scale": {"domain": [-0.05, 1.05], "nice": false, "zero": false}, "axis": null},
     "y2": {"field": "q3"},
     "color": {"field": "type", "type": "nominal", "scale": {"domain": ["Main Effect|Confounder","Itneraction Effect|Confounder","Predictor|of Y","Correlated|with X only","Noise"], "range": ["#00FF00","#0000FF","#FFA500","#FF0000","#000000"]}, "legend": null}}},
   {"mark": {"type": "rule", "color": "black", "strokeWidth": 1.8, "strokeDash": [2.5, 1]}, "encoding": {
     "y": {"field": "ol", "type": "quantitative", "scale": {"domain": [-0.05, 1.05], "nice": false, "zero": false}, "axis": null},
     "y2": {"field": "oh"}}},
   {"transform": [{"flatten": ["o"], "as": ["ov"]}], "mark": {"type": "square", "size": 4, "color": "black", "opacity": 1}, "encoding": {
     "y": {"field": "ov", "type": "quantitative", "scale": {"domain": [-0.05, 1.05], "nice": false, "zero": false}, "axis": null}}}
  ]}
]}
]
}
